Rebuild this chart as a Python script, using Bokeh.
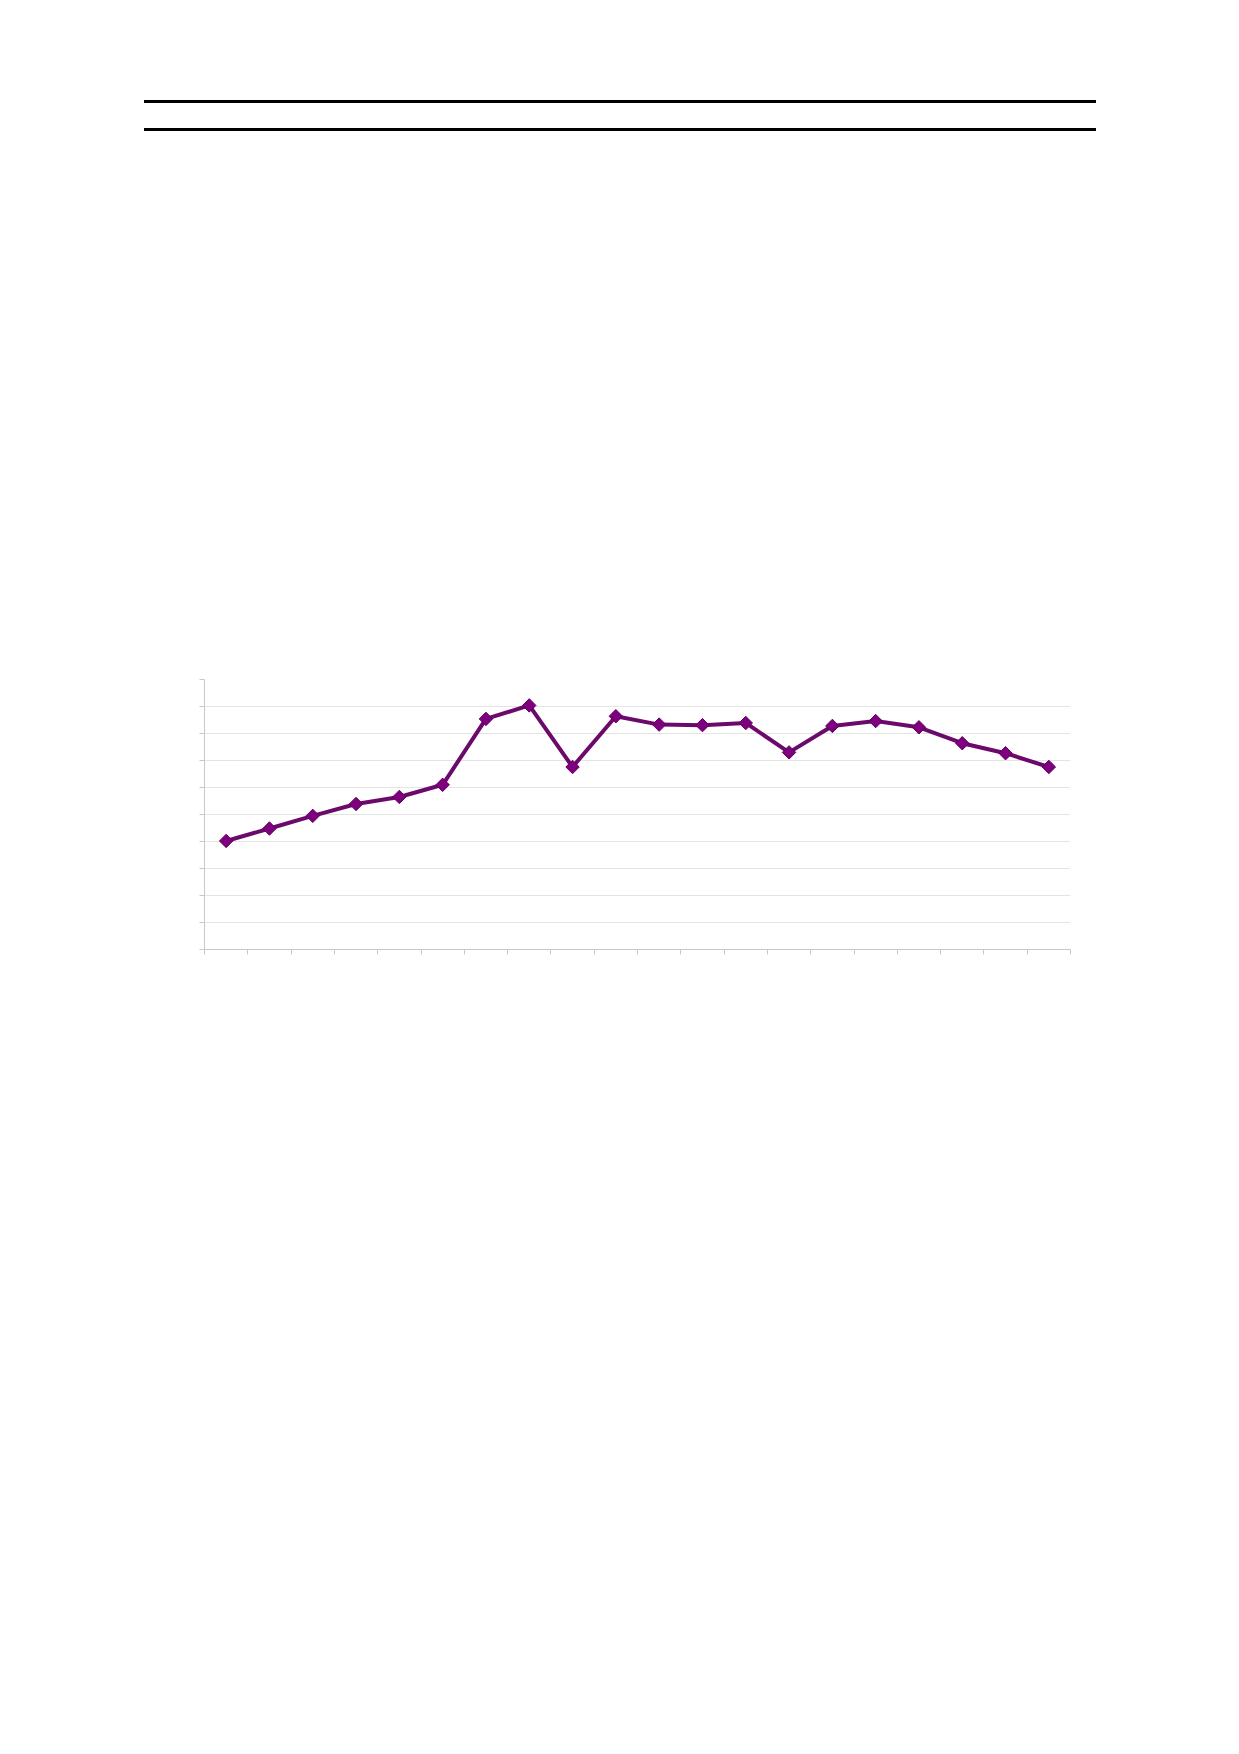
import math
from bokeh.plotting import figure
from bokeh.models import Range1d, FixedTicker, Div
from bokeh.layouts import column
from bokeh.embed import file_html
from bokeh.resources import INLINE

# Data (20 unlabeled periods, y scale 0-10)
periods = list(range(1, 21))
values = [4.02, 4.48, 4.95, 5.39, 5.65, 6.10, 8.54, 9.04, 6.76, 8.64,
          8.33, 8.31, 8.39, 7.30, 8.28, 8.46, 8.23, 7.64, 7.27, 6.76]
y_ticks = list(range(0, 11))
x_bounds = list(range(0, 21))

W = 1239
TOP_H = 168

# Top decorative rules (page header)
rules = Div(width=W, height=TOP_H, margin=0, text=(
    '<div style="margin-left:144px;width:952px;padding-top:100px">'
    '<div style="height:3px;background:#000"></div>'
    '<div style="height:25px"></div>'
    '<div style="height:3px;background:#000"></div>'
    '</div>'))

# Main chart
p = figure(width=W, height=1570, output_backend="svg", toolbar_location=None,
           x_range=Range1d(0, len(periods)), y_range=Range1d(0, 10),
           min_border_left=204, min_border_right=169, min_border_top=511, min_border_bottom=789)
p.outline_line_color = None
p.background_fill_color = "white"
p.border_fill_color = "white"

xs = [i - 0.5 for i in periods]
p.line(xs, values, line_color="#6c0a6c", line_width=4)
p.scatter(xs, values, marker="square", angle=math.pi / 4, size=9.5,
          fill_color="#7e007e", line_color="#5e005e", line_width=1)

p.xaxis.ticker = FixedTicker(ticks=x_bounds)
p.yaxis.ticker = FixedTicker(ticks=y_ticks)
for ax in (p.xaxis, p.yaxis):
    ax.axis_line_color = "#c8c8c8"
    ax.major_tick_line_color = "#c8c8c8"
    ax.minor_tick_line_color = None
    ax.major_tick_in = 0
    ax.major_tick_out = 5
    ax.major_label_text_color = None
p.xgrid.visible = False
p.ygrid.ticker = FixedTicker(ticks=y_ticks)
p.ygrid.grid_line_color = "#e4e4e4"

layout = column(rules, p, spacing=0)
open("out.html", "w").write(file_html(layout, INLINE))
